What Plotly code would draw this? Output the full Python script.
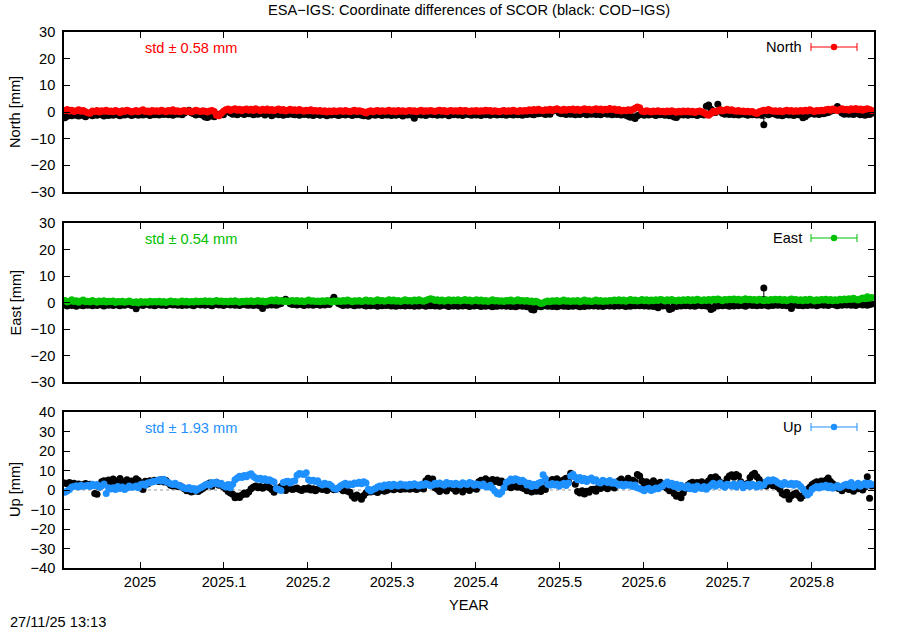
import numpy as np
import plotly.graph_objects as go

# ---------------- data (daily solutions, decimal year) ----------------
START_YEAR = 2024.9105
N_DAYS = 352
YEAR = [START_YEAR + d / 365.25 for d in range(N_DAYS)]

north_esa = [
 0.6,0.9,0.4,0.7,0.2,0.5,0.8,0.3,0.6,0.1, -0.3,-0.5,0.4,0.2,0.6,0.0,0.5,0.3,0.7,0.2,
 0.4,0.1,0.6,0.3,-0.2,0.5,0.2,0.7,0.4,0.0, 0.3,0.6,0.1,0.5,0.8,0.2,0.4,0.0,0.6,0.3,
 0.5,0.2,0.7,0.4,0.1,0.6,0.3,0.8,0.2,0.5, 0.1,0.4,0.6,0.2,0.5,0.0,0.3,0.7,0.4,0.2,
 0.5,0.3,0.0,0.4,0.6,0.2,-1.2,-1.4,-0.6,0.3, 0.8,1.1,0.6,0.9,1.2,0.7,1.0,0.5,0.9,1.1,
 0.7,1.0,0.6,1.2,0.8,0.5,1.0,0.7,1.1,0.6, 0.9,0.5,0.8,1.1,0.6,0.9,0.4,0.7,1.0,0.6,
 0.8,0.5,0.9,0.6,0.3,0.7,0.5,0.8,0.4,0.6, 0.3,0.6,0.2,0.5,0.0,0.4,0.1,0.5,0.2,0.4,
 0.5,0.2,0.6,0.3,0.1,0.4,0.7,0.2,0.5,0.3, 0.0,-0.4,0.2,0.5,0.1,0.4,0.6,0.2,0.5,0.3,
 0.4,0.7,0.2,0.5,0.1,0.6,0.3,0.5,0.2,0.4, 0.6,0.3,0.5,0.1,0.4,0.7,0.2,0.5,0.3,0.6,
 0.4,0.2,0.5,0.7,0.3,0.6,0.1,0.4,0.6,0.3, 0.5,0.3,0.7,0.2,0.6,0.4,0.1,0.5,0.3,0.6,
 0.2,0.5,0.3,0.7,0.4,0.6,0.2,0.5,0.3,0.1, 0.4,0.6,0.2,0.5,0.3,0.7,0.4,0.2,0.6,0.3,
 0.6,0.4,0.8,0.5,0.9,0.6,1.0,0.7,0.5,0.8, 0.7,1.0,0.6,0.9,1.2,0.8,0.6,1.0,0.7,0.9,
 0.8,1.1,0.7,1.0,0.6,0.9,1.2,0.8,1.0,0.7, 0.9,1.2,0.8,1.1,0.7,1.0,0.8,1.3,0.9,1.1,
 0.6,0.9,0.4,0.7,0.5,0.8,0.6,0.9,1.4,1.9, 1.6,0.4,0.1,0.5,0.3,0.0,0.4,0.2,0.5,0.1,
 0.3,0.0,0.4,0.1,0.5,0.2,-0.1,0.3,0.0,0.4, 0.1,0.4,0.0,0.3,-0.2,0.2,0.4,0.1,-0.3,-0.8,
 -1.2,-0.6,0.3,0.0,0.5,0.8,0.4,0.7,1.0,0.6, 0.8,0.5,0.3,0.6,0.2,0.4,0.1,0.3,0.0,0.2,
 -0.3,-0.6,0.1,0.4,0.7,0.5,0.9,0.6,0.3,0.5, 0.2,0.5,0.1,0.4,0.7,0.3,0.6,0.2,0.5,0.3,
 0.6,0.3,0.7,0.4,0.8,0.5,0.2,0.6,0.4,0.7, 0.5,0.8,1.0,0.7,1.1,0.8,0.6,0.9,1.2,0.8,
 1.0,0.7,1.2,0.9,1.3,0.8,1.1,0.7,1.0,1.2, 0.9,0.6]

north_cod = [
 -2.2,-1.6,-1.0,-1.4,-0.8,-1.2,-1.5,-0.9,-1.3,-1.8, -1.1,-0.7,-1.4,-0.9,-1.2,-0.6,-1.0,-1.5,-0.8,-1.3,
 -0.9,-1.2,-0.5,-1.0,-1.4,-0.7,-1.1,-0.6,-0.9,-1.3, -1.0,-0.6,-1.2,-0.8,-1.1,-0.5,-0.9,-1.3,-0.7,-1.0,
 -0.8,-1.1,-0.6,-0.9,-0.4,-1.0,-0.7,-1.2,-0.5,-0.8, -0.6,-1.0,-0.4,0.2,0.7,-0.3,-0.7,-1.1,-0.5,-0.9,
 -1.2,-1.9,-2.1,-1.6,-1.0,-1.8,-0.8,-1.2,-0.6,-1.0, 0.5,0.2,-0.4,-0.8,-0.3,-1.0,-0.6,-0.2,-0.9,-0.5,
 -0.7,-0.3,-1.0,-0.5,-0.8,-0.2,-0.6,-1.1,-0.4,-0.7, -1.4,-0.8,-0.5,-1.0,-0.7,-1.2,-0.6,-0.9,-0.4,-0.8,
 -1.0,-0.6,-1.2,-0.7,-0.9,-0.5,-1.1,-0.8,-1.3,-0.6, -0.9,-1.2,-0.7,-1.0,-1.4,-0.8,-1.1,-0.6,-1.0,-1.3,
 -1.0,-0.7,-1.1,-0.5,-0.9,-1.3,-0.8,-1.0,-0.6,-1.2, -1.4,-0.9,-1.6,-1.1,-0.8,-1.2,-0.7,-1.0,-1.3,-0.9,
 -1.1,-0.8,-1.3,-0.9,-1.2,-0.6,-1.0,-1.5,-0.8,-1.1, -0.9,-1.2,-2.3,-1.0,-0.7,-1.1,-0.8,-1.3,-0.9,-0.6,
 -1.0,-0.7,-1.2,-0.8,-1.1,-0.6,-0.9,-1.4,-0.8,-1.0, -0.7,-1.1,-0.8,-1.3,-0.9,-0.6,-1.0,-1.2,-0.8,-1.1,
 -0.9,-1.3,-0.7,-1.0,-0.8,-1.2,-0.6,-0.9,-1.1,-0.7, -1.0,-0.8,-1.2,-0.6,-0.9,-1.1,-0.7,-1.0,-0.8,-1.2,
 -0.6,-0.9,-0.4,-0.8,-1.0,-0.5,-0.7,-0.3,-0.6,-0.9, -0.5,-0.8,0.3,0.8,0.6,-0.4,-0.7,-0.5,-0.9,-0.6,
 -0.8,-0.5,-1.0,-0.6,-0.9,-0.4,-0.7,-1.0,-0.6,-0.8, -0.5,-0.9,-0.6,-1.0,-0.7,-0.4,-0.8,-0.6,-1.0,-0.7,
 -0.9,-0.6,-1.1,-0.8,-1.2,-1.6,-2.0,-1.8,-2.4,-1.4, -1.0,-0.7,-1.2,-0.8,-1.1,-0.6,-0.9,-1.3,-0.7,-1.0,
 -0.8,-1.2,-0.9,-1.4,-1.0,-1.9,-2.1,-1.2,-0.8,-1.1, -0.9,-1.2,-0.7,-1.0,-0.8,-1.3,-0.6,-0.9,-1.1,2.2,
 2.6,1.0,0.4,-0.2,2.9,0.8,-0.5,-0.8,-0.4,-0.9, -0.6,-1.0,-0.7,-1.1,-0.8,-0.5,-0.9,-1.2,-0.7,-1.0,
 -0.8,-1.1,-0.6,-1.2,-4.8,-0.6,-1.0,-0.7,-0.4,-0.8, -1.2,-0.9,-1.4,-1.0,-0.7,-1.1,-0.8,-1.3,-0.9,-1.0,
 -1.1,-2.2,-1.8,-1.0,-0.7,-0.4,-0.8,-0.5,-0.9,-0.6, -0.7,-0.4,-0.2,0.3,0.6,0.8,2.1,0.4,-0.4,-0.8,
 -0.5,-0.8,-0.6,-0.9,-0.4,-0.7,-1.0,-0.6,-1.2,-0.8, -0.9,-0.5]

east_esa = [
 0.8,0.2,0.5,1.0,0.4,0.7,0.1,0.6,0.9,0.3, 0.5,0.2,0.8,0.4,0.1,0.6,0.3,0.7,0.2,0.5,
 0.3,0.6,0.0,0.4,0.2,0.5,0.1,0.3,0.6,0.2, 0.0,0.3,-0.2,0.4,0.1,0.3,0.0,0.5,0.2,0.4,
 0.2,0.5,0.1,0.4,0.0,0.3,0.6,0.2,0.4,0.1, 0.3,0.6,0.2,0.5,0.1,0.4,0.2,0.6,0.3,0.5,
 0.4,0.7,0.3,0.6,0.2,0.5,0.8,0.4,0.6,0.3, 0.5,0.2,0.6,0.3,0.7,0.4,0.1,0.5,0.3,0.6,
 0.4,0.7,0.3,0.5,0.8,0.4,0.6,0.2,0.5,0.7, 0.9,0.6,1.0,0.5,0.8,0.4,0.7,0.3,0.6,0.8,
 0.5,0.8,0.4,0.7,0.3,0.6,0.9,0.5,0.7,0.4, 0.6,0.3,0.7,0.4,0.8,0.5,0.2,0.6,0.4,0.7,
 0.4,0.8,0.5,0.9,0.6,0.3,0.7,0.5,0.8,0.4, 0.6,0.9,0.5,0.8,0.4,0.7,1.0,0.6,0.8,0.5,
 0.7,1.0,0.6,0.9,0.5,0.8,0.4,0.7,1.0,0.6, 0.8,0.5,0.9,0.6,1.0,0.7,0.5,0.8,1.1,1.4,
 1.2,0.8,1.0,0.6,0.9,0.5,0.8,1.0,0.6,0.9, 0.7,1.0,0.6,0.8,1.1,0.7,0.9,0.5,0.8,1.0,
 0.6,0.9,0.5,0.8,0.4,0.7,1.0,0.6,0.8,0.5, 0.7,0.4,0.8,0.6,0.9,0.5,0.7,1.0,0.6,0.8,
 0.5,0.8,0.4,0.6,0.2,0.5,0.1,-0.4,-0.2,0.3, 0.6,0.3,0.7,0.5,0.8,0.4,0.6,0.9,0.5,0.7,
 0.4,0.7,0.5,0.8,0.3,0.6,0.9,0.5,0.7,0.4, 0.6,0.9,0.5,0.8,0.4,0.7,0.5,0.8,0.6,0.9,
 0.7,1.0,0.6,0.9,0.5,0.8,1.1,0.7,0.9,0.6, 0.8,1.1,0.7,1.0,0.6,0.9,0.7,1.0,0.8,1.1,
 0.9,0.6,1.0,0.7,1.1,0.8,0.6,0.9,0.7,1.0, 0.8,1.1,0.7,1.0,0.8,1.2,0.9,0.7,1.0,0.8,
 1.1,0.8,1.2,0.9,1.3,1.0,0.7,1.1,0.9,1.2, 1.0,1.3,0.9,1.2,0.8,1.1,1.4,1.0,1.2,0.9,
 1.1,0.8,1.2,0.9,0.7,1.0,0.8,1.1,0.9,1.2, 0.9,1.2,0.8,1.1,0.7,1.0,1.3,0.9,1.1,0.8,
 1.0,0.7,1.1,0.8,1.2,0.9,0.6,1.0,0.8,1.1, 0.9,1.2,0.8,1.1,0.7,1.0,0.8,1.2,0.9,1.3,
 1.0,1.4,1.1,1.6,1.2,0.9,1.3,1.7,1.4,2.2, 1.6,1.9]

east_cod = [
 -0.9,-1.3,-0.6,-1.1,-0.8,-1.4,-0.7,-1.0,-1.2,-0.6, -1.0,-0.7,-1.2,-0.8,-1.1,-0.5,-0.9,-1.3,-0.7,-1.0,
 -0.8,-1.1,-0.6,-0.9,-1.2,-0.7,-1.0,-0.5,-0.8,-1.1, -1.2,-2.4,-1.0,-0.7,-1.1,-0.8,-0.6,-1.0,-0.8,-1.2,
 -0.9,-0.6,-1.0,-0.7,-1.1,-0.8,-0.5,-0.9,-0.6,-1.0, -0.8,-1.1,-0.7,-1.0,-0.6,-0.9,-1.2,-0.8,-0.5,-0.9,
 -0.7,-1.0,-0.6,-0.9,-1.2,-0.8,-0.5,-0.9,-0.7,-1.1, -0.8,-0.5,-0.9,-0.6,-1.0,-0.7,-1.1,-0.8,-0.6,-0.9,
 -1.0,-0.7,-1.1,-0.8,-1.0,-1.3,-2.3,-0.6,-1.0,-0.7, -0.9,-0.6,-1.0,-0.7,-0.4,0.6,1.2,0.4,-0.5,-0.8,
 -0.6,-0.9,-0.5,-0.8,-1.1,-0.7,-0.9,-0.6,-1.0,-0.8, -0.7,-1.0,-0.6,-0.9,-0.5,-0.8,0.8,2.0,0.6,-0.4,
 -0.8,-1.1,-0.7,-1.0,-0.6,-0.9,-1.2,-0.8,-1.0,-0.7, -1.0,-1.3,-0.9,-1.2,-0.8,-1.1,-1.4,-1.0,-1.2,-0.9,
 -1.1,-0.8,-1.3,-1.0,-1.4,-0.9,-1.2,-1.0,-1.3,-0.8, -1.2,-0.9,-1.4,-1.1,-1.3,-0.8,-1.1,-1.4,-1.0,-1.2,
 -0.9,-1.3,-1.0,-1.4,-1.1,-0.8,-1.2,-1.5,-1.0,-1.3, -1.1,-1.4,-1.0,-1.3,-0.9,-1.2,-1.5,-1.1,-1.3,-1.0,
 -1.2,-1.5,-1.1,-1.4,-1.0,-1.3,-1.6,-1.2,-1.4,-1.1, -1.3,-1.0,-1.4,-1.1,-1.5,-1.2,-1.6,-1.3,-1.0,-1.4,
 -1.2,-1.6,-1.3,-2.6,-2.8,-1.5,-1.2,-1.6,-1.3,-1.1, -1.4,-1.1,-1.5,-1.2,-1.6,-1.3,-1.0,-1.4,-1.2,-1.5,
 -1.1,-1.4,-1.0,-1.3,-1.6,-1.2,-1.5,-1.1,-1.3,-1.0, -1.3,-1.0,-1.4,-1.1,-1.5,-1.2,-0.9,-1.3,-1.1,-1.4,
 -1.0,-1.3,-0.9,-1.2,-1.5,-1.1,-1.4,-1.0,-1.2,-0.9, -1.2,-0.9,-1.3,-1.0,-1.4,-1.1,-1.5,-1.2,-2.0,-1.1,
 -1.3,-1.0,-1.4,-2.6,-2.3,-1.2,-1.5,-1.1,-1.3,-1.0, -1.2,-0.9,-1.3,-1.0,-1.4,-1.1,-0.8,-1.2,-1.0,-1.3,
 -1.4,-2.6,-2.2,-1.1,-1.3,-1.0,-1.2,-0.9,-1.1,-1.4, -1.0,-1.3,-0.9,-1.2,-0.8,-1.1,-1.4,-1.0,-0.8,-1.1,
 -0.9,-1.2,-0.8,-1.1,5.5,-1.0,-1.3,-0.9,-1.1,-0.8, -1.0,-0.7,-1.1,-0.8,-1.2,-0.9,-2.3,-1.0,-0.8,-1.1,
 -0.9,-1.2,-0.8,-1.1,-0.7,-1.0,-0.8,-1.2,-0.9,-0.6, -1.0,-0.7,-1.1,-0.8,-0.6,-0.9,-1.2,-0.8,-1.0,-0.7,
 -0.9,-0.6,-1.0,-0.7,-1.1,-0.8,-0.5,-0.9,-0.7,-1.0, -0.8,-0.6]

up_esa = [
 -1.2,-0.5,0.3,1.5,1.8,2.2,1.6,2.4,1.9,2.1, 2.5,1.8,3.0,2.2,2.8,1.5,2.0,3.1,-1.8,1.2,
 0.5,1.2,0.2,1.8,0.8,1.5,0.3,1.0,2.0,1.4, 1.6,2.0,1.2,2.8,3.1,2.5,3.6,3.9,4.2,4.5,
 4.8,5.2,4.6,5.5,4.4,3.9,3.2,2.8,3.4,2.6, 2.2,1.5,1.0,0.6,1.3,0.2,0.8,-0.2,0.5,1.1,
 1.8,2.6,3.1,2.4,3.8,3.3,4.0,2.9,3.5,2.2, 1.5,2.8,1.2,3.0,5.2,6.1,7.0,6.4,7.5,6.8,
 7.8,8.3,6.9,6.2,5.5,6.0,5.1,5.8,4.9,5.3, 4.6,4.1,0.8,0.2,-0.3,3.8,4.2,4.5,3.6,4.4,
 4.8,7.6,8.5,8.2,7.9,8.8,5.2,4.6,5.0,4.3, 4.8,3.2,2.6,3.4,2.9,3.0,2.1,0.8,0.4,1.2,
 2.2,2.8,3.5,2.4,3.1,2.7,3.6,3.3,4.0,3.2, 4.2,3.6,0.4,-0.5,0.2,0.8,1.5,2.0,1.4,2.6,
 2.2,2.8,1.8,3.0,2.5,2.0,3.1,2.4,2.7,1.9, 2.9,2.3,3.2,2.6,2.1,3.0,2.5,3.3,2.8,2.2,
 2.6,3.4,2.9,3.6,3.0,2.4,3.8,3.1,3.3,2.7, 3.5,3.0,2.6,3.7,3.2,2.8,3.9,3.4,2.5,3.1,
 2.8,2.2,3.1,1.8,1.5,2.4,0.9,-0.5,-1.8,-2.2, -1.0,1.2,3.8,4.5,5.6,4.9,5.8,5.2,4.4,5.0,
 4.1,2.6,3.4,1.8,2.9,2.2,3.5,4.0,7.8,5.9, 3.0,2.4,3.3,2.6,3.1,1.9,2.8,3.4,2.3,3.6,
 7.2,8.1,6.5,5.2,6.4,4.8,5.9,4.4,5.5,6.1, 4.6,5.2,4.0,3.6,5.0,4.3,3.8,4.9,3.4,4.1,
 3.2,2.5,2.9,2.1,3.0,2.4,2.7,1.8,2.6,1.2, 0.8,0.2,-0.4,0.5,0.9,-0.2,0.3,1.0,0.6,1.4,
 2.0,3.2,4.1,2.6,3.5,1.8,2.9,1.2,2.4,1.5, 1.0,2.2,0.6,1.5,0.2,2.0,1.2,0.8,1.8,0.4,
 1.6,2.5,3.4,1.9,2.8,3.6,2.2,1.4,3.0,2.6, 2.0,3.1,1.5,2.7,3.5,1.2,2.4,3.0,1.8,2.9,
 2.3,1.6,3.0,2.0,2.6,4.2,5.1,4.6,5.3,4.8, 3.8,3.2,2.6,3.9,3.1,2.8,3.5,2.4,3.3,2.9,
 1.8,0.5,-1.2,-2.6,-1.5,0.4,1.2,1.8,1.0,2.1, 1.6,2.4,1.2,2.0,0.9,1.5,2.3,1.1,1.8,2.6,
 3.0,2.2,3.8,1.5,2.6,3.4,1.9,2.8,3.6,2.4, 3.5,2.8]

up_cod = [
 3.6,3.2,3.8,2.9,3.4,2.5,3.1,2.2,2.8,3.3, 2.6,3.0,2.4,-1.8,-2.2,1.5,4.2,4.8,4.5,5.1,
 4.0,5.6,3.2,4.8,5.9,3.5,4.4,5.2,3.8,4.6, 3.4,5.8,4.9,1.0,0.2,4.5,3.1,4.7,4.2,5.0,
 4.8,4.4,5.2,4.1,4.9,3.6,2.5,2.0,2.4,1.8, 2.2,1.5,0.6,-0.4,0.2,-1.0,-0.6,0.4,-0.8,0.0,
 0.8,1.5,2.8,3.6,1.9,3.2,4.0,2.4,3.1,1.6, 0.5,-0.8,-1.5,-2.2,-4.0,-3.1,-3.8,-2.5,-1.6,-2.2,
 -1.0,0.6,1.5,2.0,1.2,1.8,0.9,1.6,2.2,1.1, 0.2,-1.2,1.0,0.4,1.8,0.6,-0.3,1.2,0.8,0.2,
 0.6,1.0,0.3,-0.2,0.8,0.4,1.1,0.0,0.7,-0.4, 0.5,1.0,0.2,0.8,-0.3,0.6,1.2,0.1,0.4,0.9,
 0.6,-0.4,0.3,-0.6,-1.2,-3.1,-4.2,-2.6,-3.5,-4.8, -2.8,-1.4,-0.5,-1.0,-0.2,-0.8,-1.3,-0.4,0.2,-0.6,
 -0.2,0.4,0.8,0.1,0.6,1.0,0.3,0.9,0.5,1.2, 0.4,1.1,0.6,0.2,0.9,1.4,0.5,4.8,6.0,5.2,
 5.6,1.2,0.4,-0.8,1.6,0.2,-0.5,1.0,1.8,0.6, -0.6,0.9,1.5,-1.0,0.3,1.2,-0.2,0.8,1.6,0.4,
 4.2,5.0,4.6,5.8,3.9,4.8,5.4,4.4,5.1,3.8, 4.6,2.4,1.6,2.0,1.2,2.6,1.8,1.4,2.2,1.0,
 0.6,-0.4,0.8,-1.0,0.2,-0.6,0.4,-0.8,1.0,0.2, 3.8,4.6,5.4,4.2,5.8,4.8,4.0,5.2,6.0,4.4,
 8.6,7.2,3.0,-0.8,-1.6,-0.4,-2.0,-0.6,-1.2,0.2, 0.4,-0.6,1.2,0.8,2.0,1.4,0.6,1.8,2.4,1.0,
 3.6,4.8,5.6,3.2,4.4,6.0,3.8,5.0,4.2,8.0, 7.2,4.6,3.0,4.2,2.8,3.6,4.8,2.6,3.4,4.0,
 2.8,1.6,0.8,-0.4,0.6,-1.8,-3.2,-2.6,-4.0,-1.4, 0.8,2.6,3.4,4.0,3.0,3.8,2.8,4.2,3.2,3.6,
 4.8,6.4,5.2,6.8,5.6,4.0,2.6,3.4,5.8,7.2, 7.8,6.6,8.0,7.2,4.2,3.0,2.2,3.4,6.4,7.8,
 8.6,6.8,5.4,2.4,3.6,2.0,3.0,3.6,2.2,3.2, 1.6,0.4,-1.8,-2.6,-1.2,-4.8,-3.0,-2.2,-1.6,-2.8,
 -4.2,-3.0,-1.0,0.2,1.4,2.8,3.6,4.2,3.0,4.6, 3.8,5.0,6.2,4.4,3.2,2.4,1.0,0.6,-0.4,0.8,
 1.4,0.2,2.0,-0.6,1.2,0.6,2.4,0.0,1.6,6.8, -4.2,2.0]

# formal errors (mm): typical value, plus the few large ones (day index: (up, down))
SIGMA_TYPICAL = 0.3
north_cod_sigma_big = {304: (2.5, 0.0)}
east_cod_sigma_big = {304: (0.0, 3.3)}

STD_TEXT = {"North": "std \u00b1 0.58 mm", "East": "std \u00b1 0.54 mm", "Up": "std \u00b1 1.93 mm"}
COMPONENTS = ["North", "East", "Up"]
YLIMITS = {"North": (-30, 30), "East": (-30, 30), "Up": (-40, 40)}
XTICKS = [2025.0, 2025.1, 2025.2, 2025.3, 2025.4, 2025.5, 2025.6, 2025.7, 2025.8]
XTICK_LABELS = ["2025", "2025.1", "2025.2", "2025.3", "2025.4", "2025.5", "2025.6", "2025.7", "2025.8"]
XRANGE = (2024.9095, 2025.874)

COLORS = {"North": "#ff0000", "East": "#00c000", "Up": "#1e90ff"}
SERIES = {"North": (north_esa, north_cod, {}, north_cod_sigma_big),
          "East": (east_esa, east_cod, {}, east_cod_sigma_big),
          "Up": (up_esa, up_cod, {}, {})}

# ---------------- figure ----------------
W, H = 900, 630
L, R, T, B = 64, 26, 32, 62
PW, PH = W - L - R, H - T - B
FONT = "Liberation Sans, Arial, Helvetica, sans-serif"
FS = 14.6

def px(xp):
    return (xp - L) / PW

def py(yp):
    return (H - B - yp) / PH

panel_px = {"North": (32, 192), "East": (223, 382), "Up": (412, 568)}

fig = go.Figure()
annotations = []
shapes = []

def err_arrays(n, big):
    up = [SIGMA_TYPICAL] * n
    dn = [SIGMA_TYPICAL] * n
    for k, (u, d) in big.items():
        up[k] = u
        dn[k] = d
    return up, dn

for i, comp in enumerate(COMPONENTS):
    ax = "" if i == 0 else str(i + 1)
    xa, ya = "x" + ax, "y" + ax
    esa, cod, esa_big, cod_big = SERIES[comp]
    col = COLORS[comp]
    n = len(YEAR)

    cu, cd = err_arrays(n, cod_big)
    fig.add_trace(go.Scatter(x=YEAR, y=cod, mode="markers", xaxis=xa, yaxis=ya,
                             marker=dict(color="black", size=7),
                             error_y=dict(type="data", symmetric=False, array=cu, arrayminus=cd,
                                          color="black", thickness=1, width=2),
                             showlegend=False, hoverinfo="skip"))
    eu, ed = err_arrays(n, esa_big)
    fig.add_trace(go.Scatter(x=YEAR, y=esa, mode="markers", xaxis=xa, yaxis=ya,
                             marker=dict(color=col, size=7),
                             error_y=dict(type="data", symmetric=False, array=eu, arrayminus=ed,
                                          color=col, thickness=1, width=2),
                             showlegend=False, hoverinfo="skip"))

    top, bot = panel_px[comp]
    dom = [py(bot), py(top)]
    last = (i == len(COMPONENTS) - 1)
    fig.update_layout(**{
        ("xaxis" + ax): dict(domain=[0, 1], range=list(XRANGE), tickvals=XTICKS, ticktext=XTICK_LABELS,
                              showticklabels=last, ticks="inside", ticklen=6, tickcolor="black",
                              showline=True, linecolor="black", linewidth=1.5, mirror="ticks",
                              showgrid=False, zeroline=False, anchor=ya,
                              tickfont=dict(family=FONT, size=FS, color="black")),
        ("yaxis" + ax): dict(domain=dom, range=list(YLIMITS[comp]), dtick=10, tick0=0,
                              ticks="inside", ticklen=6, tickcolor="black",
                              showline=True, linecolor="black", linewidth=1.5, mirror="ticks",
                              showgrid=False, zeroline=False, anchor=xa,
                              tickfont=dict(family=FONT, size=FS, color="black"),
                              ticklabelstandoff=4),
    })
    # dotted zero line
    shapes.append(dict(type="line", xref=xa + " domain", yref=ya, x0=0, x1=1, y0=0, y1=0,
                       line=dict(color="#999999", width=1, dash="dot"), layer="below"))
    # y-axis title
    annotations.append(dict(text=f"{comp} [mm]", xref="paper", yref="paper", x=px(15), y=py((top + bot) / 2),
                            textangle=-90, showarrow=False, xanchor="center", yanchor="middle",
                            font=dict(family=FONT, size=FS, color="black")))
    # std text
    annotations.append(dict(text=STD_TEXT[comp], xref="paper", yref="paper", x=px(143), y=py(top + 16),
                            showarrow=False, xanchor="left", yanchor="middle",
                            font=dict(family=FONT, size=FS, color=col)))
    # legend entry (gnuplot style: errorbar sample)
    ly = top + 15
    annotations.append(dict(text=comp, xref="paper", yref="paper", x=px(804), y=py(ly),
                            showarrow=False, xanchor="right", yanchor="middle",
                            font=dict(family=FONT, size=FS, color="black")))
    shapes.append(dict(type="line", xref="paper", yref="paper", x0=px(811), x1=px(857), y0=py(ly), y1=py(ly),
                       line=dict(color=col, width=1)))
    for cx in (811, 857):
        shapes.append(dict(type="line", xref="paper", yref="paper", x0=px(cx), x1=px(cx),
                           y0=py(ly - 4), y1=py(ly + 4), line=dict(color=col, width=1)))
    shapes.append(dict(type="circle", xref="paper", yref="paper", x0=px(834 - 3.2), x1=px(834 + 3.2),
                       y0=py(ly + 3.2), y1=py(ly - 3.2), fillcolor=col, line=dict(color=col, width=0)))

annotations.append(dict(text="ESA\u2212IGS: Coordinate differences of SCOR (black: COD\u2212IGS)",
                        xref="paper", yref="paper", x=0.5, y=py(10), showarrow=False,
                        xanchor="center", yanchor="middle", font=dict(family=FONT, size=FS, color="black")))
annotations.append(dict(text="YEAR", xref="paper", yref="paper", x=0.5, y=py(605), showarrow=False,
                        xanchor="center", yanchor="middle", font=dict(family=FONT, size=FS, color="black")))
annotations.append(dict(text="27/11/25 13:13", xref="paper", yref="paper", x=px(8), y=py(622),
                        showarrow=False, xanchor="left", yanchor="middle",
                        font=dict(family=FONT, size=FS, color="black")))

fig.update_layout(width=W, height=H, margin=dict(l=L, r=R, t=T, b=B, autoexpand=False),
                  paper_bgcolor="white", plot_bgcolor="white", showlegend=False,
                  annotations=annotations, shapes=shapes)

fig.write_html("out.html", config={"displayModeBar": False},
               post_script="document.body.style.margin='0px';")
